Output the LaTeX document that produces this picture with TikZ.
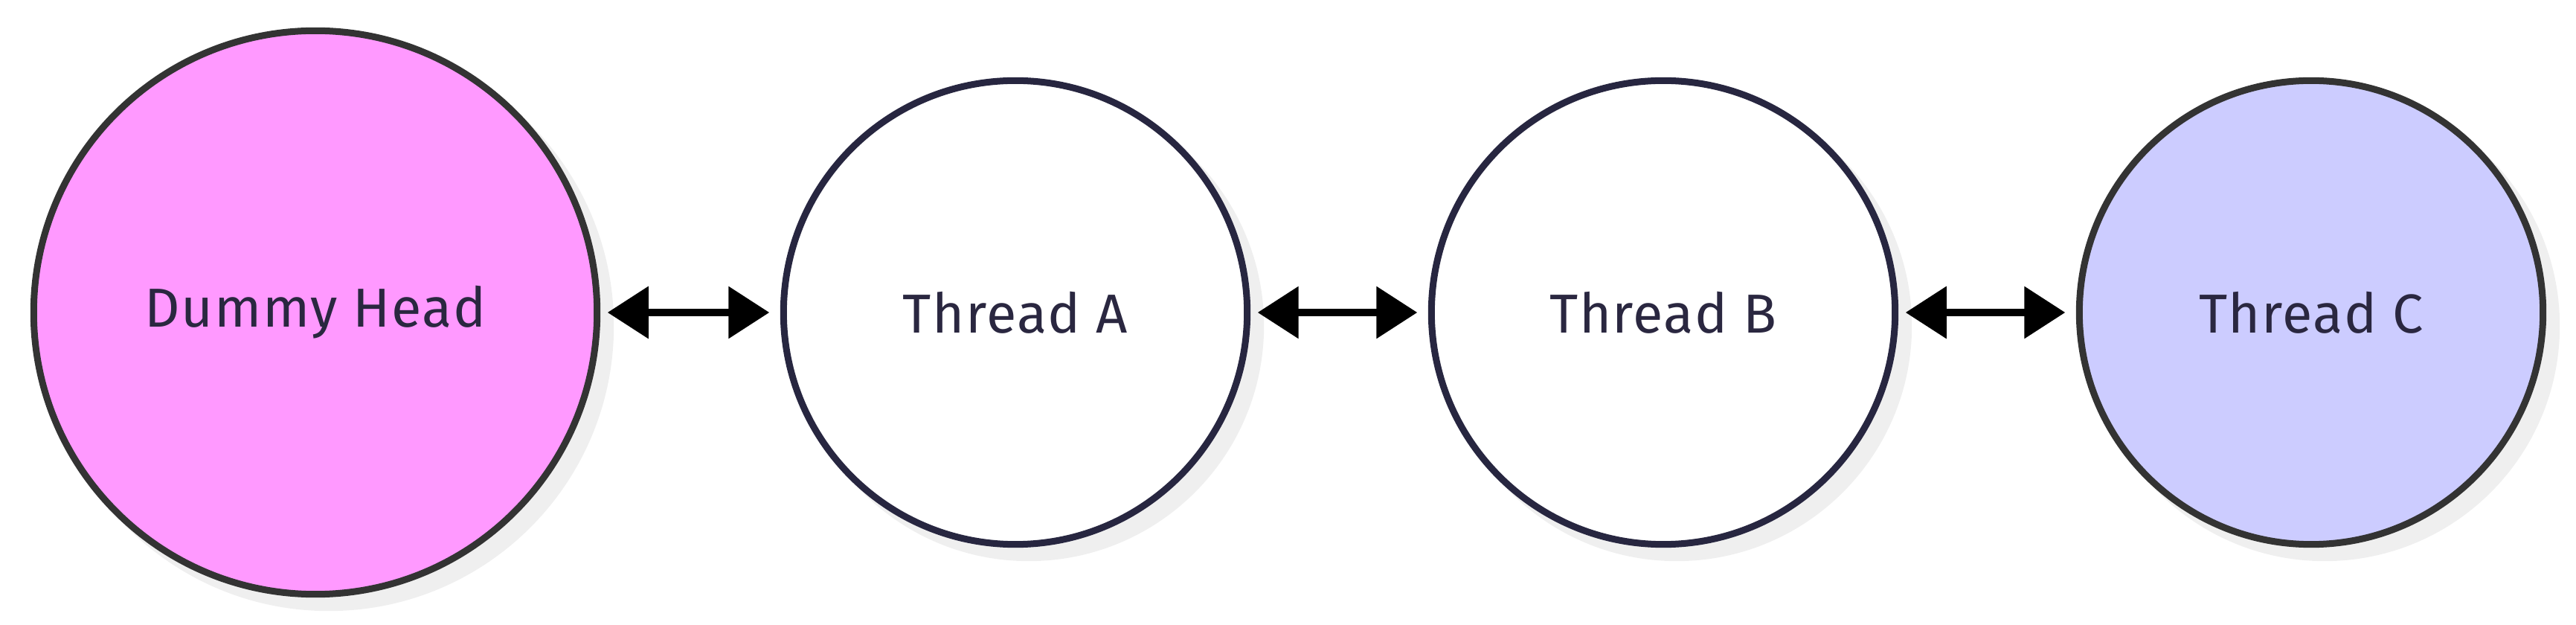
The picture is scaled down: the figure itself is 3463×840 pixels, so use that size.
\documentclass[tikz,border=0pt]{standalone}
\usepackage{fontspec}
\setmainfont{Fira Sans}[LetterSpace=2]
\usetikzlibrary{arrows.meta}
\definecolor{pinkfill}{HTML}{FF99FF}
\definecolor{bluefill}{HTML}{CCCCFF}
\definecolor{darkstroke}{HTML}{333333}
\definecolor{navystroke}{HTML}{272640}
\definecolor{shadowgrey}{HTML}{EFEFEF}
\definecolor{textnavy}{HTML}{2A2740}
\tikzset{
  circnode/.style={circle, line width=0.9mm, inner sep=0pt, outer sep=0pt,
    text=textnavy, font=\fontsize{21}{24}\selectfont},
  bigcirc/.style={circnode, minimum size=7.57cm},
  smallcirc/.style={circnode, minimum size=6.23cm},
  shadowfill/.style={fill=shadowgrey, draw=none},
  linkarrow/.style={{Triangle[length=5.5mm,width=6.8mm]}-{Triangle[length=5.5mm,width=6.8mm]},
    line width=1mm, black, shorten <=0.14cm, shorten >=0.19cm}
}
\begin{document}
\begin{tikzpicture}[x=0.01cm,y=-0.01cm]
\useasboundingbox (0,0) rectangle (3463,840);
% shadows
\fill[shadowfill] (442,438) circle[radius=3.83cm];
\fill[shadowfill] (1383,438) circle[radius=3.16cm];
\fill[shadowfill] (2254,438) circle[radius=3.16cm];
\fill[shadowfill] (3125,438) circle[radius=3.16cm];
% nodes
\node[bigcirc, draw=darkstroke, fill=pinkfill] (dh) at (424,420) {Dummy Head};
\node[smallcirc, draw=navystroke, fill=white] (ta) at (1365,420) {Thread A};
\node[smallcirc, draw=navystroke, fill=white] (tb) at (2236,420) {Thread B};
\node[smallcirc, draw=darkstroke, fill=bluefill] (tc) at (3107,420) {Thread C};
% connectors
\draw[linkarrow] (dh) -- (ta);
\draw[linkarrow] (ta) -- (tb);
\draw[linkarrow] (tb) -- (tc);
\end{tikzpicture}
\end{document}
